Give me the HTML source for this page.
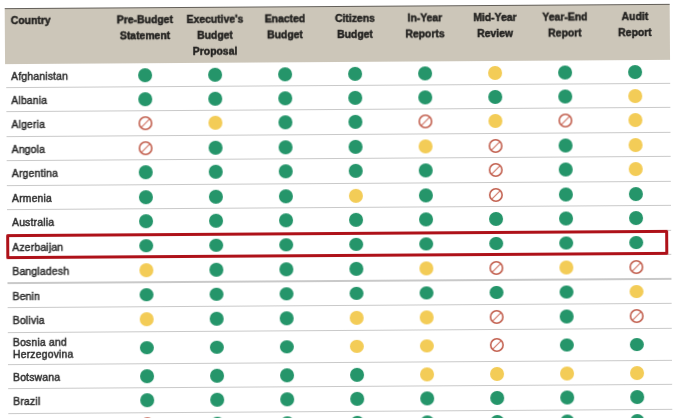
<!DOCTYPE html><html><head><meta charset="utf-8"><style>
html,body{margin:0;padding:0;background:#fff;}
body{width:674px;height:418px;overflow:hidden;position:relative;}
#t{position:absolute;left:0;top:0;width:674px;height:418px;transform-origin:337px 209px;transform:rotate(-0.37deg);filter:blur(0.35px);}
.a{position:absolute;}
.h{position:absolute;font-family:"Liberation Sans",sans-serif;font-weight:bold;font-size:10.4px;line-height:16px;color:#232220;text-align:center;width:80px;white-space:nowrap;-webkit-text-stroke:0.45px #232220;}
.c{position:absolute;font-family:"Liberation Sans",sans-serif;font-size:10.4px;line-height:14px;color:#2b2b2b;-webkit-text-stroke:0.45px #2b2b2b;letter-spacing:0.2px;white-space:nowrap;}
.ln{position:absolute;height:1.2px;background:#c9c9c9;left:6.5px;width:664.0px;}
.g,.y,.x{position:absolute;width:13.8px;height:13.8px;border-radius:50%;box-sizing:border-box;}
.g{background:#25956a;} .y{background:#f3cc57;}
.xs{position:absolute;overflow:visible;}
</style></head><body><div id="t">
<div class="a" style="left:6.4px;top:6px;width:664.6px;height:55.6px;background:#ccc6b9;border-top:1px solid #625e58;box-sizing:border-box;"></div>
<div class="h" style="left:12px;top:10.60px;text-align:left;">Country</div>
<div class="h" style="left:106.10px;top:10.60px;">Pre-Budget<br>Statement</div>
<div class="h" style="left:176.10px;top:10.60px;">Executive's<br>Budget<br>Proposal</div>
<div class="h" style="left:246.10px;top:10.60px;">Enacted<br>Budget</div>
<div class="h" style="left:316.10px;top:10.60px;">Citizens<br>Budget</div>
<div class="h" style="left:386.10px;top:10.60px;">In-Year<br>Reports</div>
<div class="h" style="left:456.10px;top:10.60px;">Mid-Year<br>Review</div>
<div class="h" style="left:526.10px;top:10.60px;">Year-End<br>Report</div>
<div class="h" style="left:596.10px;top:10.60px;">Audit<br>Report</div>
<div class="c" style="left:12px;top:67.85px;">Afghanistan</div>
<div class="g" style="left:139.20px;top:66.85px;"></div>
<div class="g" style="left:209.20px;top:66.85px;"></div>
<div class="g" style="left:279.20px;top:66.85px;"></div>
<div class="g" style="left:349.20px;top:66.85px;"></div>
<div class="g" style="left:419.20px;top:66.85px;"></div>
<div class="y" style="left:489.20px;top:66.85px;"></div>
<div class="g" style="left:559.20px;top:66.85px;"></div>
<div class="g" style="left:629.20px;top:66.85px;"></div>
<div class="c" style="left:12px;top:92.00px;">Albania</div>
<div class="g" style="left:139.20px;top:91.00px;"></div>
<div class="g" style="left:209.20px;top:91.00px;"></div>
<div class="g" style="left:279.20px;top:91.00px;"></div>
<div class="g" style="left:349.20px;top:91.00px;"></div>
<div class="g" style="left:419.20px;top:91.00px;"></div>
<div class="g" style="left:489.20px;top:91.00px;"></div>
<div class="g" style="left:559.20px;top:91.00px;"></div>
<div class="y" style="left:629.20px;top:91.00px;"></div>
<div class="c" style="left:12px;top:116.30px;">Algeria</div>
<svg class="xs" width="16" height="16" style="left:138.10px;top:114.20px;"><circle cx="8.0" cy="8.0" r="6.20" fill="none" stroke="#c2604f" stroke-width="1.6"/><line x1="12.38" y1="3.62" x2="3.62" y2="12.38" stroke="#d27a6c" stroke-width="1.3"/></svg>
<div class="y" style="left:209.20px;top:115.30px;"></div>
<div class="g" style="left:279.20px;top:115.30px;"></div>
<div class="g" style="left:349.20px;top:115.30px;"></div>
<svg class="xs" width="16" height="16" style="left:418.10px;top:114.20px;"><circle cx="8.0" cy="8.0" r="6.20" fill="none" stroke="#c2604f" stroke-width="1.6"/><line x1="12.38" y1="3.62" x2="3.62" y2="12.38" stroke="#d27a6c" stroke-width="1.3"/></svg>
<div class="y" style="left:489.20px;top:115.30px;"></div>
<svg class="xs" width="16" height="16" style="left:558.10px;top:114.20px;"><circle cx="8.0" cy="8.0" r="6.20" fill="none" stroke="#c2604f" stroke-width="1.6"/><line x1="12.38" y1="3.62" x2="3.62" y2="12.38" stroke="#d27a6c" stroke-width="1.3"/></svg>
<div class="y" style="left:629.20px;top:115.30px;"></div>
<div class="c" style="left:12px;top:140.80px;">Angola</div>
<svg class="xs" width="16" height="16" style="left:138.10px;top:138.70px;"><circle cx="8.0" cy="8.0" r="6.20" fill="none" stroke="#c2604f" stroke-width="1.6"/><line x1="12.38" y1="3.62" x2="3.62" y2="12.38" stroke="#d27a6c" stroke-width="1.3"/></svg>
<div class="g" style="left:209.20px;top:139.80px;"></div>
<div class="g" style="left:279.20px;top:139.80px;"></div>
<div class="g" style="left:349.20px;top:139.80px;"></div>
<div class="y" style="left:419.20px;top:139.80px;"></div>
<svg class="xs" width="16" height="16" style="left:488.10px;top:138.70px;"><circle cx="8.0" cy="8.0" r="6.20" fill="none" stroke="#c2604f" stroke-width="1.6"/><line x1="12.38" y1="3.62" x2="3.62" y2="12.38" stroke="#d27a6c" stroke-width="1.3"/></svg>
<div class="g" style="left:559.20px;top:139.80px;"></div>
<div class="y" style="left:629.20px;top:139.80px;"></div>
<div class="c" style="left:12px;top:165.35px;">Argentina</div>
<div class="g" style="left:139.20px;top:164.35px;"></div>
<div class="g" style="left:209.20px;top:164.35px;"></div>
<div class="g" style="left:279.20px;top:164.35px;"></div>
<div class="g" style="left:349.20px;top:164.35px;"></div>
<div class="g" style="left:419.20px;top:164.35px;"></div>
<svg class="xs" width="16" height="16" style="left:488.10px;top:163.25px;"><circle cx="8.0" cy="8.0" r="6.20" fill="none" stroke="#c2604f" stroke-width="1.6"/><line x1="12.38" y1="3.62" x2="3.62" y2="12.38" stroke="#d27a6c" stroke-width="1.3"/></svg>
<div class="g" style="left:559.20px;top:164.35px;"></div>
<div class="y" style="left:629.20px;top:164.35px;"></div>
<div class="c" style="left:12px;top:189.80px;">Armenia</div>
<div class="g" style="left:139.20px;top:188.80px;"></div>
<div class="g" style="left:209.20px;top:188.80px;"></div>
<div class="g" style="left:279.20px;top:188.80px;"></div>
<div class="y" style="left:349.20px;top:188.80px;"></div>
<div class="g" style="left:419.20px;top:188.80px;"></div>
<svg class="xs" width="16" height="16" style="left:488.10px;top:187.70px;"><circle cx="8.0" cy="8.0" r="6.20" fill="none" stroke="#c2604f" stroke-width="1.6"/><line x1="12.38" y1="3.62" x2="3.62" y2="12.38" stroke="#d27a6c" stroke-width="1.3"/></svg>
<div class="g" style="left:559.20px;top:188.80px;"></div>
<div class="g" style="left:629.20px;top:188.80px;"></div>
<div class="c" style="left:12px;top:214.30px;">Australia</div>
<div class="g" style="left:139.20px;top:213.30px;"></div>
<div class="g" style="left:209.20px;top:213.30px;"></div>
<div class="g" style="left:279.20px;top:213.30px;"></div>
<div class="g" style="left:349.20px;top:213.30px;"></div>
<div class="g" style="left:419.20px;top:213.30px;"></div>
<div class="g" style="left:489.20px;top:213.30px;"></div>
<div class="g" style="left:559.20px;top:213.30px;"></div>
<div class="g" style="left:629.20px;top:213.30px;"></div>
<div class="c" style="left:12px;top:238.50px;">Azerbaijan</div>
<div class="g" style="left:139.20px;top:237.50px;"></div>
<div class="g" style="left:209.20px;top:237.50px;"></div>
<div class="g" style="left:279.20px;top:237.50px;"></div>
<div class="g" style="left:349.20px;top:237.50px;"></div>
<div class="g" style="left:419.20px;top:237.50px;"></div>
<div class="g" style="left:489.20px;top:237.50px;"></div>
<div class="g" style="left:559.20px;top:237.50px;"></div>
<div class="g" style="left:629.20px;top:237.50px;"></div>
<div class="c" style="left:12px;top:262.80px;">Bangladesh</div>
<div class="y" style="left:139.20px;top:261.80px;"></div>
<div class="g" style="left:209.20px;top:261.80px;"></div>
<div class="g" style="left:279.20px;top:261.80px;"></div>
<div class="g" style="left:349.20px;top:261.80px;"></div>
<div class="y" style="left:419.20px;top:261.80px;"></div>
<svg class="xs" width="16" height="16" style="left:488.10px;top:260.70px;"><circle cx="8.0" cy="8.0" r="6.20" fill="none" stroke="#c2604f" stroke-width="1.6"/><line x1="12.38" y1="3.62" x2="3.62" y2="12.38" stroke="#d27a6c" stroke-width="1.3"/></svg>
<div class="y" style="left:559.20px;top:261.80px;"></div>
<svg class="xs" width="16" height="16" style="left:628.10px;top:260.70px;"><circle cx="8.0" cy="8.0" r="6.20" fill="none" stroke="#c2604f" stroke-width="1.6"/><line x1="12.38" y1="3.62" x2="3.62" y2="12.38" stroke="#d27a6c" stroke-width="1.3"/></svg>
<div class="c" style="left:12px;top:287.50px;">Benin</div>
<div class="g" style="left:139.20px;top:286.50px;"></div>
<div class="g" style="left:209.20px;top:286.50px;"></div>
<div class="g" style="left:279.20px;top:286.50px;"></div>
<div class="g" style="left:349.20px;top:286.50px;"></div>
<div class="g" style="left:419.20px;top:286.50px;"></div>
<div class="g" style="left:489.20px;top:286.50px;"></div>
<div class="g" style="left:559.20px;top:286.50px;"></div>
<div class="y" style="left:629.20px;top:286.50px;"></div>
<div class="c" style="left:12px;top:312.10px;">Bolivia</div>
<div class="y" style="left:139.20px;top:311.10px;"></div>
<div class="g" style="left:209.20px;top:311.10px;"></div>
<div class="g" style="left:279.20px;top:311.10px;"></div>
<div class="y" style="left:349.20px;top:311.10px;"></div>
<div class="y" style="left:419.20px;top:311.10px;"></div>
<svg class="xs" width="16" height="16" style="left:488.10px;top:310.00px;"><circle cx="8.0" cy="8.0" r="6.20" fill="none" stroke="#c2604f" stroke-width="1.6"/><line x1="12.38" y1="3.62" x2="3.62" y2="12.38" stroke="#d27a6c" stroke-width="1.3"/></svg>
<div class="g" style="left:559.20px;top:311.10px;"></div>
<svg class="xs" width="16" height="16" style="left:628.10px;top:310.00px;"><circle cx="8.0" cy="8.0" r="6.20" fill="none" stroke="#c2604f" stroke-width="1.6"/><line x1="12.38" y1="3.62" x2="3.62" y2="12.38" stroke="#d27a6c" stroke-width="1.3"/></svg>
<div class="c" style="left:12px;top:334.90px;line-height:12.6px;">Bosnia and<br>Herzegovina</div>
<div class="g" style="left:139.20px;top:339.50px;"></div>
<div class="g" style="left:209.20px;top:339.50px;"></div>
<div class="g" style="left:279.20px;top:339.50px;"></div>
<div class="y" style="left:349.20px;top:339.50px;"></div>
<div class="y" style="left:419.20px;top:339.50px;"></div>
<svg class="xs" width="16" height="16" style="left:488.10px;top:338.40px;"><circle cx="8.0" cy="8.0" r="6.20" fill="none" stroke="#c2604f" stroke-width="1.6"/><line x1="12.38" y1="3.62" x2="3.62" y2="12.38" stroke="#d27a6c" stroke-width="1.3"/></svg>
<div class="g" style="left:559.20px;top:339.50px;"></div>
<div class="g" style="left:629.20px;top:339.50px;"></div>
<div class="c" style="left:12px;top:368.80px;">Botswana</div>
<div class="g" style="left:139.20px;top:367.80px;"></div>
<div class="g" style="left:209.20px;top:367.80px;"></div>
<div class="g" style="left:279.20px;top:367.80px;"></div>
<div class="g" style="left:349.20px;top:367.80px;"></div>
<div class="y" style="left:419.20px;top:367.80px;"></div>
<div class="y" style="left:489.20px;top:367.80px;"></div>
<div class="y" style="left:559.20px;top:367.80px;"></div>
<div class="y" style="left:629.20px;top:367.80px;"></div>
<div class="c" style="left:12px;top:393.25px;">Brazil</div>
<div class="g" style="left:139.20px;top:392.25px;"></div>
<div class="g" style="left:209.20px;top:392.25px;"></div>
<div class="g" style="left:279.20px;top:392.25px;"></div>
<div class="g" style="left:349.20px;top:392.25px;"></div>
<div class="g" style="left:419.20px;top:392.25px;"></div>
<div class="g" style="left:489.20px;top:392.25px;"></div>
<div class="g" style="left:559.20px;top:392.25px;"></div>
<div class="g" style="left:629.20px;top:392.25px;"></div>
<svg class="xs" width="16" height="16" style="left:138.10px;top:414.90px;"><circle cx="8.0" cy="8.0" r="6.20" fill="none" stroke="#c2604f" stroke-width="1.6"/><line x1="12.38" y1="3.62" x2="3.62" y2="12.38" stroke="#d27a6c" stroke-width="1.3"/></svg>
<div class="g" style="left:209.20px;top:416.00px;"></div>
<div class="g" style="left:279.20px;top:416.00px;"></div>
<div class="g" style="left:349.20px;top:416.00px;"></div>
<div class="g" style="left:419.20px;top:416.00px;"></div>
<div class="g" style="left:489.20px;top:416.00px;"></div>
<div class="g" style="left:559.20px;top:416.00px;"></div>
<div class="g" style="left:629.20px;top:416.00px;"></div>
<div class="ln" style="top:85.10px;"></div>
<div class="ln" style="top:109.30px;"></div>
<div class="ln" style="top:133.70px;"></div>
<div class="ln" style="top:158.30px;"></div>
<div class="ln" style="top:182.80px;"></div>
<div class="ln" style="top:207.20px;"></div>
<div class="ln" style="top:231.80px;"></div>
<div class="ln" style="top:255.60px;"></div>
<div class="ln" style="top:280.40px;"></div>
<div class="ln" style="top:305.00px;"></div>
<div class="ln" style="top:329.60px;"></div>
<div class="ln" style="top:361.80px;"></div>
<div class="ln" style="top:386.20px;"></div>
<div class="ln" style="top:410.70px;"></div>
<div class="a" style="left:6.3px;top:232px;width:661.7px;height:24.600000000000023px;border:3px solid #ae1119;box-sizing:border-box;border-radius:1.5px;"></div>
</div></body></html>
